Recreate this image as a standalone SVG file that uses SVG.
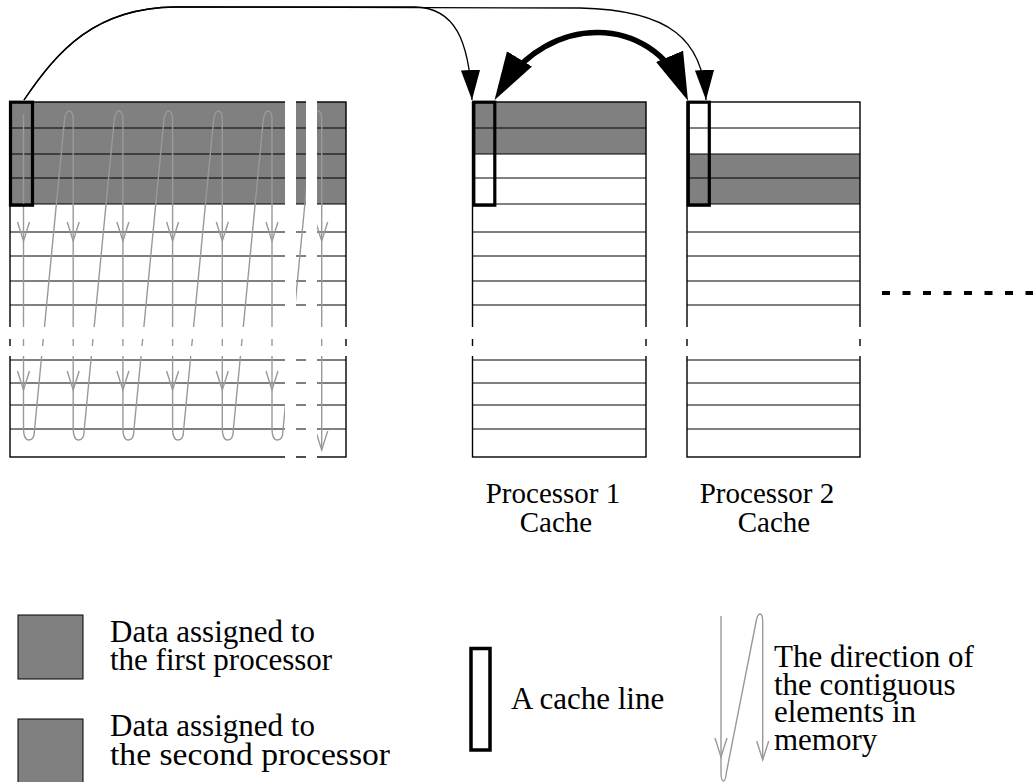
<svg xmlns="http://www.w3.org/2000/svg" width="1033" height="782" viewBox="0 0 1033 782">
<style>
.txt{font-family:"Liberation Serif","Times New Roman",serif;font-size:29px;fill:#000}
.leg{font-size:31px}
.mid{text-anchor:middle}
.grid{stroke:#000;stroke-width:1;fill:none}
.border{stroke:#000;stroke-width:1.4;fill:none}
.shade{fill:#808080}
.cl{fill:none;stroke:#000;stroke-width:3.2}
.flow{fill:none;stroke:#999;stroke-width:1.4}
.stub{stroke:#000;stroke-width:1.4}
.gstub{stroke:#999;stroke-width:1.4}
.gap{fill:#fff}
.conn{fill:none;stroke:#000;stroke-width:1.3}
.thick{fill:none;stroke:#000;stroke-width:5.5}
</style>
<defs>
<marker id="ah" markerUnits="userSpaceOnUse" markerWidth="30" markerHeight="20" viewBox="0 0 28 18" refX="28" refY="9" orient="auto"><path d="M0,0 L28,9 L0,18 z" fill="#000"/></marker>
<marker id="big" markerUnits="userSpaceOnUse" markerWidth="48" markerHeight="30" viewBox="0 0 46 28" refX="36" refY="14" orient="auto-start-reverse"><path d="M0,0 L46,14 L0,28 z" fill="#000"/></marker>
<path id="v" d="M-6,-19 L0,0 L6,-19" fill="none" stroke="#999" stroke-width="1.4"/>
</defs>

<g id="matrix">
<rect class="shade" x="10" y="102" width="336" height="102"/>
<path class="grid" d="M10,128H346M10,154H346M10,178H346M10,204H346M10,232H346M10,256H346M10,281H346M10,305H346M10,360H346M10,383H346M10,405H346M10,429H346"/>
<path class="flow" d="M23.5,114 L23.5,428 C23.5,436 25.5,440 29,440 C32.5,440 34.5,436 34.5,430 L64.5,120 C65.5,114 67,111 69,111 C71.5,111 73.2,114 73.2,120 L73.2,428 C73.2,436 75.2,440 78.7,440 C82.2,440 84.2,436 84.2,430 L114.2,120 C115.2,114 116.7,111 118.7,111 C121.2,111 122.9,114 122.9,120 L122.9,428 C122.9,436 124.9,440 128.4,440 C131.9,440 133.9,436 133.9,430 L163.9,120 C164.9,114 166.4,111 168.4,111 C170.9,111 172.6,114 172.6,120 L172.6,428 C172.6,436 174.6,440 178.1,440 C181.6,440 183.6,436 183.6,430 L213.6,120 C214.6,114 216.1,111 218.1,111 C220.6,111 222.3,114 222.3,120 L222.3,428 C222.3,436 224.3,440 227.8,440 C231.3,440 233.3,436 233.3,430 L263.3,120 C264.3,114 265.8,111 267.8,111 C270.3,111 272,114 272,120 L272,428 C272,436 274,440 277.5,440 C281,440 283,436 283,430 L313,120 C314,114 315.5,111 317.5,111 C320,111 321.7,114 321.7,120 L321.7,450"/>
<use href="#v" x="23.5" y="241"/><use href="#v" x="73.2" y="241"/><use href="#v" x="122.9" y="241"/><use href="#v" x="172.6" y="241"/><use href="#v" x="222.3" y="241"/><use href="#v" x="272" y="241"/><use href="#v" x="321.7" y="241"/>
<use href="#v" x="23.5" y="390"/><use href="#v" x="73.2" y="390"/><use href="#v" x="122.9" y="390"/><use href="#v" x="172.6" y="390"/><use href="#v" x="222.3" y="390"/><use href="#v" x="272" y="390"/>
<use href="#v" x="321.7" y="450"/>
<rect class="border" x="10" y="102" width="336" height="355"/>
<rect class="gap" x="4" y="327" width="348" height="29"/>
<path class="stub" d="M10,339V346M346,339V346"/>
<path class="gstub" d="M23.5,339V346M73.2,339V346M122.9,339V346M172.6,339V346M222.3,339V346M272,339V346M321.7,339V346M43.3,339L42.6,346M93,339L92.3,346M142.7,339L142,346M192.4,339L191.7,346M242.1,339L241.4,346"/>
<rect class="gap" x="285" y="95" width="11" height="370"/>
<rect class="gap" x="306" y="95" width="11" height="370"/>
<rect class="cl" x="10.5" y="102.2" width="22" height="103"/>
</g>

<g id="cache1">
<rect class="shade" x="472.5" y="102" width="173.5" height="52"/>
<path class="grid" d="M472.5,128H646M472.5,154H646M472.5,178H646M472.5,204H646M472.5,232H646M472.5,256H646M472.5,281H646M472.5,305H646M472.5,360H646M472.5,383H646M472.5,405H646M472.5,429H646"/>
<rect class="border" x="472.5" y="102" width="173.5" height="355"/>
<rect class="gap" x="466" y="327" width="186" height="29"/>
<path class="stub" d="M472.5,339V346M646,339V346"/>
<rect class="cl" x="473.8" y="102.2" width="21" height="103"/>
</g>

<g id="cache2">
<rect class="shade" x="687" y="154" width="173" height="50"/>
<path class="grid" d="M687,128H860M687,154H860M687,178H860M687,204H860M687,232H860M687,256H860M687,281H860M687,305H860M687,360H860M687,383H860M687,405H860M687,429H860"/>
<rect class="border" x="687" y="102" width="173" height="355"/>
<rect class="gap" x="681" y="327" width="185" height="29"/>
<path class="stub" d="M687,339V346M860,339V346"/>
<rect class="cl" x="688.3" y="102.2" width="21" height="103"/>
</g>

<g id="more-caches">
<line x1="882" y1="293" x2="1033" y2="293" stroke="#000" stroke-width="4" stroke-dasharray="8 12.5"/>
</g>

<g id="connectors">
<path class="conn" d="M24,100 C58,50 95,8 175,7 L415,7 C455,8 469,40 472,100" marker-end="url(#ah)"/>
<path class="conn" d="M24,100 C58,50 95,8 175,7 L580,8 C670,10 703,40 706,100" marker-end="url(#ah)"/>
<path class="thick" d="M500,91 C548,12 652,14 684,91" marker-start="url(#big)" marker-end="url(#big)"/>
</g>

<g id="labels">
<text class="txt mid" x="553" y="503">Processor 1</text>
<text class="txt mid" x="556" y="532">Cache</text>
<text class="txt mid" x="767" y="503">Processor 2</text>
<text class="txt mid" x="774" y="532">Cache</text>
</g>

<g id="legend-first">
<rect class="shade" x="18" y="615" width="65" height="64" stroke="#000" stroke-width="1"/>
<text class="txt leg" x="110" y="642">Data assigned to</text>
<text class="txt leg" x="110" y="670">the first processor</text>
</g>
<g id="legend-second">
<rect class="shade" x="18" y="719" width="65" height="70" stroke="#000" stroke-width="1"/>
<text class="txt leg" x="110" y="736">Data assigned to</text>
<text class="txt leg" x="110" y="765" textLength="280" lengthAdjust="spacingAndGlyphs">the second processor</text>
</g>
<g id="legend-cacheline">
<rect x="471" y="648.5" width="19" height="101.5" fill="none" stroke="#000" stroke-width="3.5"/>
<text class="txt leg" x="511" y="709">A cache line</text>
</g>
<g id="legend-direction">
<path class="flow" d="M721,616 L721,772 C721,778 722,781 723.5,781 C725,781 726,777 726.5,772 L756,622 C757,616 758.5,614 760,614 C761.5,614 762.7,617 762.7,622 L762.7,760"/>
<use href="#v" x="721" y="757"/>
<use href="#v" x="762.7" y="760"/>
<text class="txt leg" x="774" y="667">The direction of</text>
<text class="txt leg" x="774" y="695">the contiguous</text>
<text class="txt leg" x="774" y="722">elements in</text>
<text class="txt leg" x="774" y="750">memory</text>
</g>
</svg>
